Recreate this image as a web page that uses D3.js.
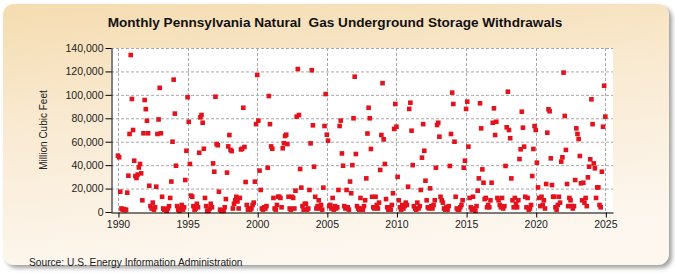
<!DOCTYPE html>
<html>
<head>
<meta charset="utf-8">
<script src="https://cdn.jsdelivr.net/npm/d3@7"></script>
<style>
  body { margin: 0; background: #fff; }
  svg text { font-family: "Liberation Sans", Arial, sans-serif; }
</style>
</head>
<body>
<div id="chart"></div>
<script>
// Monthly withdrawals, million cubic feet, Jan..Dec of each year
const start_year = 1990;
const w1990s = [
  48100, 46700, 17300, 3000, 2000, 2500, 1500, 2000, 16500, 31000, 66600, 134000,
  96500, 70000, 43800, 30700, 29000, 32000, 38000, 41000, 33000, 10000, 67200, 95600,
  87800, 77900, 67200, 22400, 5000, 3000, 8000, 2000, 4000, 21600, 66600, 79000,
  106000, 67200, 13000, 3000, 2000, 2000, 1000, 3000, 5000, 12000, 26000, 60000,
  113000, 84000, 39500, 5000, 2000, 1000, 3000, 6000, 2000, 4000, 27300, 52300,
  98000, 77000, 41000, 14000, 13000, 5000, 2000, 3000, 7000, 4000, 50600, 80800,
  82800, 76200, 54000, 12000, 5000, 1000, 1000, 3000, 7000, 4000, 41500, 34400,
  98400, 58000, 57000, 17300, 2000, 1000, 1000, 1000, 4000, 11000, 33600, 56000,
  65700, 53000, 52000, 3000, 7000, 10000, 13000, 9000, 3000, 12000, 53400, 54000,
  89000, 55500, 25600, 6000, 2000, 3000, 2000, 3000, 6000, 8000, 25900, 75000
];
const w2000s = [
  117000, 78000, 35300, 18800, 3000, 2000, 4000, 3000, 5000, 37800, 99000, 75000,
  56000, 54000, 12000, 3000, 2000, 6000, 13000, 13000, 12000, 4000, 54400, 58700,
  64900, 66000, 58000, 13000, 3000, 2000, 13000, 12000, 3000, 18200, 81400, 122000,
  82800, 36700, 20800, 5000, 2000, 7000, 7000, 2000, 3000, 18800, 58600, 121000,
  74000, 38700, 13000, 3000, 5000, 10000, 3000, 6000, 2000, 20800, 73400, 100700,
  66000, 60900, 5000, 6000, 3000, 12000, 2000, 5000, 3000, 4000, 18800, 73400,
  78000, 50000, 39500, 5000, 3000, 18800, 4000, 2000, 26000, 16000, 40000, 80000,
  115500, 49500, 5000, 3000, 2000, 12000, 3000, 2000, 5000, 10000, 28700, 67000,
  89000, 80000, 53800, 13000, 4000, 3000, 13000, 6000, 3000, 8000, 35900, 65700,
  110000, 62000, 41000, 11000, 4000, 2000, 4000, 2000, 6000, 16000, 70900, 92200
];
const w2010s = [
  72800, 30000, 10000, 4000, 2000, 6000, 3000, 5000, 8000, 6000, 21600, 88000,
  93300, 69400, 40000, 5000, 3000, 2000, 8000, 3000, 5000, 18800, 46400, 75000,
  52300, 26700, 10000, 4000, 3000, 20200, 5000, 3000, 6000, 10000, 37800, 74300,
  76200, 64300, 13000, 10000, 8000, 3000, 2000, 4000, 2000, 5000, 39300, 66600,
  101900, 92200, 60000, 13000, 3000, 2000, 2000, 4000, 6000, 10000, 37800, 43800,
  88000, 94200, 55800, 12000, 4000, 2000, 13000, 3000, 1000, 5000, 18200, 28700,
  92800, 71400, 36400, 25000, 11000, 12000, 4000, 6000, 4000, 10000, 25000, 76200,
  88500, 65700, 77000, 12000, 10000, 6000, 4000, 12000, 3000, 5000, 39300, 72300,
  102700, 70000, 63000, 28700, 10000, 4000, 12000, 7000, 4000, 10000, 45200, 53500,
  85600, 72000, 55800, 13000, 4000, 12000, 2000, 3000, 6000, 30700, 53800, 73400
];
const w2020s = [
  70000, 42100, 21000, 12000, 5000, 13000, 6000, 10000, 3000, 23900, 67700, 87700,
  86000, 45800, 23000, 13000, 13000, 4000, 2000, 6000, 13000, 8000, 43000, 46700,
  119000, 82000, 53000, 23900, 5000, 12000, 10000, 5000, 3000, 5000, 27300, 71400,
  66600, 62300, 47800, 24500, 10000, 25000, 8000, 12000, 5000, 29600, 38700, 45000,
  96200, 75000, 41500, 37300, 12000, 21000, 21000, 6000, 4000, 34400, 72800, 107800,
  81400
];

const yTicks = [0, 20000, 40000, 60000, 80000, 100000, 120000, 140000];
const xTicks = [1990, 1995, 2000, 2005, 2010, 2015, 2020, 2025];

const title = "Monthly Pennsylvania Natural\u00a0 Gas Underground Storage Withdrawals";
const yLabel = "Million Cubic Feet";
const source = "Source: U.S. Energy Information Administration";

const values = [].concat(w1990s, w2000s, w2010s, w2020s);
const points = values.map((v, i) => ({ t: start_year + i / 12, v: v }));

const W = 675, H = 275;
const plot = { left: 111, right: 613, top: 48, bottom: 212 };

const svg = d3.select("#chart").append("svg")
  .attr("width", W).attr("height", H);

const defs = svg.append("defs");
const grad = defs.append("linearGradient")
  .attr("id", "bg").attr("x1", 0).attr("y1", 0).attr("x2", 0.25).attr("y2", 1);
grad.append("stop").attr("offset", "0%").attr("stop-color", "#f5dcb0");
grad.append("stop").attr("offset", "45%").attr("stop-color", "#f9ead2");
grad.append("stop").attr("offset", "100%").attr("stop-color", "#fdf7ef");

const shadow = defs.append("filter").attr("id", "shadow")
  .attr("x", "-5%").attr("y", "-5%").attr("width", "110%").attr("height", "115%");
shadow.append("feDropShadow")
  .attr("dx", 3).attr("dy", 3).attr("stdDeviation", 2)
  .attr("flood-color", "#777").attr("flood-opacity", 0.7);

// card background
svg.append("rect")
  .attr("x", 3).attr("y", 4).attr("width", 666).attr("height", 261)
  .attr("rx", 11).attr("fill", "url(#bg)")
  .attr("filter", "url(#shadow)");

// plot area
svg.append("rect")
  .attr("x", plot.left).attr("y", plot.top)
  .attr("width", plot.right - plot.left).attr("height", plot.bottom - plot.top)
  .attr("fill", "#fff");

const x = d3.scaleLinear().domain([1989.5, 2025.55]).range([plot.left, plot.right]);
const y = d3.scaleLinear().domain([0, 140000]).range([plot.bottom, plot.top]);

// grid
svg.append("g").selectAll("line.h")
  .data(yTicks.filter(d => d > 0))
  .join("line")
  .attr("x1", plot.left).attr("x2", plot.right)
  .attr("y1", d => y(d) + 0.5).attr("y2", d => y(d) + 0.5)
  .attr("stroke", "#a8a8a8").attr("stroke-dasharray", "3,2");

svg.append("g").selectAll("line.v")
  .data(xTicks)
  .join("line")
  .attr("x1", d => Math.round(x(d)) + 0.5).attr("x2", d => Math.round(x(d)) + 0.5)
  .attr("y1", plot.top).attr("y2", plot.bottom)
  .attr("stroke", "#a8a8a8").attr("stroke-dasharray", "3,2");

// points
svg.append("g").selectAll("rect")
  .data(points)
  .join("rect")
  .attr("x", d => x(d.t) - 2.3)
  .attr("y", d => y(d.v) - 2.3)
  .attr("width", 4.6).attr("height", 4.6)
  .attr("fill", "#e4121c");

// axes
const yAxis = svg.append("g")
  .attr("transform", `translate(${plot.left + 0.5},0)`)
  .call(d3.axisLeft(y).tickValues(yTicks).tickFormat(d3.format(","))
    .tickSize(6).tickSizeOuter(0).tickPadding(2));
const xAxis = svg.append("g")
  .attr("transform", `translate(0,${plot.bottom + 0.5})`)
  .call(d3.axisBottom(x).tickValues(xTicks).tickFormat(d3.format("d"))
    .tickSize(5).tickSizeOuter(0).tickPadding(3));

[yAxis, xAxis].forEach(a => {
  a.selectAll("path, line").attr("stroke", "#000");
  a.selectAll("text")
    .attr("fill", "#222")
    .style("font-size", "10.5px");
});
xAxis.selectAll(".tick line").attr("transform", "translate(0.5,0)");

// texts
svg.append("text")
  .attr("x", 335).attr("y", 27)
  .attr("text-anchor", "middle")
  .style("font-family", "'Liberation Sans Narrow', 'Arial Narrow', sans-serif")
  .style("font-weight", "bold").style("font-size", "13.6px")
  .attr("fill", "#111")
  .text(title);

svg.append("text")
  .attr("transform", `translate(47,${(plot.top + plot.bottom) / 2}) rotate(-90)`)
  .attr("text-anchor", "middle")
  .style("font-size", "10px").attr("fill", "#222")
  .text(yLabel);

svg.append("text")
  .attr("x", 29).attr("y", 266)
  .style("font-family", "'Liberation Sans Narrow', 'Arial Narrow', sans-serif")
  .style("font-size", "10.2px").attr("fill", "#222")
  .text(source);
</script>
</body>
</html>
